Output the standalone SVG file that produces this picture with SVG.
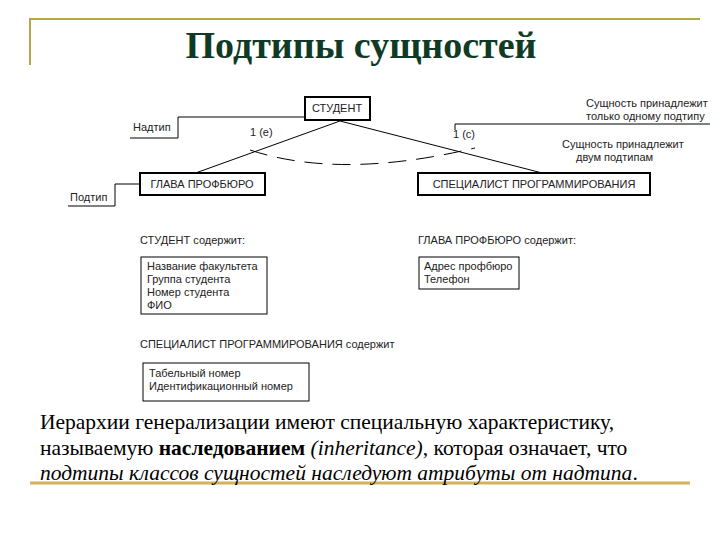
<svg xmlns="http://www.w3.org/2000/svg" width="720" height="540" viewBox="0 0 720 540">
<style>
.t{font-family:"Liberation Sans",Arial,sans-serif;font-size:11px;fill:#222}
.b{fill:#fff;stroke:#000;stroke-width:2}
.l{fill:none;stroke:#000;stroke-width:1}
.m{font-family:"Liberation Serif","Times New Roman",serif;font-size:21.5px;fill:#000}
</style>
<rect width="720" height="540" fill="#fff"/>
<g id="frame" fill="none" stroke="#b8a44a" stroke-width="2">
<path d="M30,65 V19 H700"/>
<path d="M30,483 H690" stroke="#d4b25a" stroke-width="3"/>
</g>
<text x="361" y="58" text-anchor="middle" font-family="Liberation Serif,serif" font-weight="bold" font-size="38" fill="#0f3a26">Подтипы сущностей</text>
<g id="connectors">
<path class="l" d="M340,121 L190,175 M340,121 L550,175" stroke-width="1.6"/>
<path class="l" d="M250,150 Q340,180 475,148" stroke-dasharray="18,10"/>
<path class="l" d="M130,138 H178 V117 H305"/>
<path class="l" d="M455,130 V124 H585 M585,124 H710"/>
<path class="l" d="M68,206 H115 V184 H140"/>
</g>
<g id="student"><rect class="b" x="305" y="97" width="65" height="23"/><text class="t" x="337" y="112" text-anchor="middle">СТУДЕНТ</text></g>
<g id="glava"><rect class="b" x="140" y="173" width="125" height="22"/><text class="t" x="202" y="188" text-anchor="middle">ГЛАВА ПРОФБЮРО</text></g>
<g id="spec"><rect class="b" x="418" y="173" width="232" height="22"/><text class="t" x="534" y="188" text-anchor="middle">СПЕЦИАЛИСТ ПРОГРАММИРОВАНИЯ</text></g>
<g id="labels">
<text class="t" x="133" y="131">Надтип</text>
<text class="t" x="70" y="201">Подтип</text>
<text class="t" x="250" y="136">1 (e)</text>
<text class="t" x="453" y="138">1 (c)</text>
<text class="t" x="586" y="107">Сущность принадлежит</text>
<text class="t" x="586" y="120">только одному подтипу</text>
<text class="t" x="562" y="148">Сущность принадлежит</text>
<text class="t" x="576" y="161">двум подтипам</text>
</g>
<g id="attr-student">
<text class="t" x="140" y="244">СТУДЕНТ содержит:</text>
<rect class="l" x="141" y="257" width="126" height="57" stroke-width="2"/>
<text class="t" x="147" y="270">Название факультета</text>
<text class="t" x="147" y="283">Группа студента</text>
<text class="t" x="147" y="296">Номер студента</text>
<text class="t" x="147" y="309">ФИО</text>
</g>
<g id="attr-glava">
<text class="t" x="418" y="244">ГЛАВА ПРОФБЮРО содержит:</text>
<rect class="l" x="419" y="257" width="100" height="32" stroke-width="2"/>
<text class="t" x="424" y="270">Адрес профбюро</text>
<text class="t" x="424" y="283">Телефон</text>
</g>
<g id="attr-spec">
<text class="t" x="140" y="348">СПЕЦИАЛИСТ ПРОГРАММИРОВАНИЯ содержит</text>
<rect class="l" x="143" y="363" width="166" height="38" stroke-width="2"/>
<text class="t" x="149" y="377">Табельный номер</text>
<text class="t" x="149" y="390">Идентификационный номер</text>
</g>
<g id="body">
<text class="m" x="40" y="429">Иерархии генерализации имеют специальную характеристику,</text>
<text class="m" x="40" y="455">называемую <tspan font-weight="bold">наследованием</tspan> <tspan font-style="italic">(inheritance)</tspan>, которая означает, что</text>
<text class="m" x="40" y="480"><tspan font-style="italic">подтипы классов сущностей наследуют атрибуты от надтипа</tspan>.</text>
</g>
</svg>
